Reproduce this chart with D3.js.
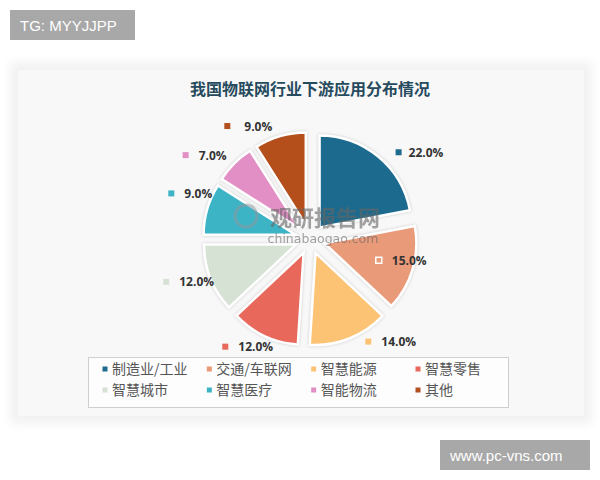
<!DOCTYPE html>
<html><head><meta charset="utf-8">
<script src="https://cdn.jsdelivr.net/npm/d3@7/dist/d3.min.js"></script>
<style>html,body{margin:0;padding:0;background:#fff;}svg{display:block;}</style>
</head><body>
<svg id="chart" width="600" height="480"></svg>
<script>
const categories = ["制造业/工业","交通/车联网","智慧能源","智慧零售","智慧城市","智慧医疗","智能物流","其他"];
const values = [22.0, 15.0, 14.0, 12.0, 12.0, 9.0, 7.0, 9.0];
const colors = ["#1f6b8e","#e99a78","#fdc374","#e8695c","#d6e2d4","#3cb4c6","#e28fc6","#b4501f"];
const title = "我国物联网行业下游应用分布情况";

const svg = d3.select("#chart");
const defs = svg.append("defs");
const blur = defs.append("filter").attr("id","panelBlur").attr("x","-10%").attr("y","-10%").attr("width","120%").attr("height","120%");
blur.append("feGaussianBlur").attr("stdDeviation",5);
const sh = defs.append("filter").attr("id","sliceShadow").attr("x","-20%").attr("y","-20%").attr("width","140%").attr("height","140%");
sh.append("feDropShadow").attr("dx",0).attr("dy",0).attr("stdDeviation",1.4).attr("flood-color","#999").attr("flood-opacity",0.5);

// panel
svg.append("rect").attr("x",10).attr("y",62).attr("width",582).attr("height",362)
  .attr("fill","#f2f2f2").attr("filter","url(#panelBlur)");
svg.append("rect").attr("x",18).attr("y",70).attr("width",566).attr("height",346)
  .attr("fill","#f8f8f8");

// watermark boxes
svg.append("rect").attr("x",10).attr("y",10).attr("width",125).attr("height",30).attr("fill","#a8a8a8");
svg.append("text").attr("x",20).attr("y",31).text("TG: MYYJJPP")
  .attr("font-family","Liberation Sans, Arial, sans-serif").attr("font-size",15).attr("fill","#fff");
svg.append("rect").attr("x",440).attr("y",440).attr("width",150).attr("height",30).attr("fill","#a8a8a8");
svg.append("text").attr("x",450).attr("y",461).text("www.pc-vns.com")
  .attr("font-family","Liberation Sans, Arial, sans-serif").attr("font-size",15).attr("fill","#fff");

// title
svg.append("text").attr("x",310).attr("y",95).attr("text-anchor","middle").text(title)
  .attr("font-family","Noto Sans CJK SC, sans-serif").attr("font-weight","bold")
  .attr("font-size",16).attr("fill","#264a5e");

// pie
const cx = 310, cy = 239, r = 92, explode = 15;
const pie = d3.pie().sort(null).value(d => d)(values);
const arc = d3.arc().innerRadius(0).outerRadius(r);
const g = svg.append("g").attr("transform",`translate(${cx},${cy})`);
const mid = d => (d.startAngle + d.endAngle) / 2;
g.selectAll("path.slice").data(pie).join("path").attr("class","slice")
  .attr("d", arc)
  .attr("transform", d => `translate(${Math.sin(mid(d))*explode},${-Math.cos(mid(d))*explode})`)
  .attr("fill",(d,i)=>colors[i]).attr("stroke","#fff").attr("stroke-width",2.5)
  .attr("stroke-linejoin","miter").attr("filter","url(#sliceShadow)");

// watermark in center
const wm = svg.append("g").attr("opacity",0.6);
wm.append("circle").attr("cx",246).attr("cy",216).attr("r",11).attr("fill","none").attr("stroke","#8a9aa0").attr("stroke-width",3);
wm.append("text").attr("x",325).attr("y",226).attr("text-anchor","middle").text("观研报告网")
  .attr("font-family","Noto Sans CJK SC, sans-serif").attr("font-weight","bold").attr("font-size",22).attr("fill","#666");
wm.append("text").attr("x",323).attr("y",243).attr("text-anchor","middle").text("chinabaogao.com")
  .attr("font-family","DejaVu Sans, sans-serif").attr("font-size",12.5).attr("fill","#666");

// data labels (Excel best-fit style): angle tweak (deg) and radius for each label
const labelLayout = [[6,124],[1,72],[-8,118],[13,137],[5,150],[2,146],[-11,150],[-20,140]];
const lab = g.selectAll("g.lab").data(pie).join("g").attr("class","lab")
  .attr("transform",(d,i)=>{
    const a = mid(d) + labelLayout[i][0]*Math.PI/180, rr = labelLayout[i][1];
    return `translate(${Math.sin(a)*rr},${-Math.cos(a)*rr})`;
  });
lab.append("rect").attr("x",-3).attr("y",-3).attr("width",6).attr("height",6)
  .attr("fill",(d,i)=>colors[i]).attr("stroke",(d,i)=> i===1 ? "#fff" : "none").attr("stroke-width",1.5);
lab.append("text").attr("x",(d,i)=> i===0?10:(i===7?17:13)).attr("y",4.5)
  .text(d => d3.format(".1f")(d.value) + "%")
  .attr("font-family","Open Sans, sans-serif").attr("font-weight","bold").attr("font-size",12).attr("fill","#333");

// legend
svg.append("rect").attr("x",88.5).attr("y",357.5).attr("width",420).attr("height",50)
  .attr("fill","#fdfdfd").attr("stroke","#cfcfcf");
const colX = d3.scalePoint().domain([0,1,2,3]).range([105,418]);
const rowY = d3.scalePoint().domain([0,1]).range([369,390]);
const leg = svg.selectAll("g.leg").data(categories).join("g").attr("class","leg")
  .attr("transform",(d,i)=>`translate(${colX(i%4)},${rowY(Math.floor(i/4))})`);
leg.append("rect").attr("x",-2.5).attr("y",-2.5).attr("width",5).attr("height",5).attr("fill",(d,i)=>colors[i]);
leg.append("text").attr("x",7).attr("y",5).text(d=>d)
  .attr("font-family","Noto Sans CJK SC, sans-serif").attr("font-size",14).attr("fill","#555");
</script>
</body></html>
